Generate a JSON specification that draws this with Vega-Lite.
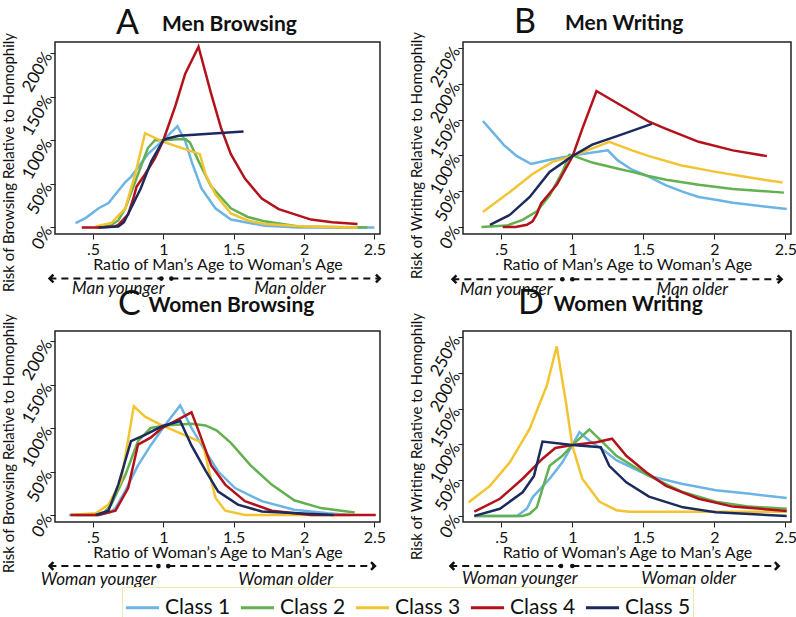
{
  "$schema": "https://vega.github.io/schema/vega-lite/v6.json",
  "background": "white",
  "padding": {"left": 0, "top": 5, "right": 0, "bottom": 0},
  "config": {
    "font": "Lato",
    "view": {"stroke": "#222", "strokeWidth": 1.5},
    "axis": {"domain": false, "grid": false, "tickColor": "#222", "tickSize": 5, "labelColor": "#111", "titleColor": "#111", "labelFontSize": 16, "titleFontSize": 16, "titleFontWeight": "normal", "labelFont": "Lato", "titleFont": "Lato", "labelPadding": 2},
    "axisY": {"labelAngle": -60, "labelAlign": "right", "labelBaseline": "middle", "labelFontSize": 17, "titleFontSize": 15, "titlePadding": 2, "labelOverlap": false},
    "axisX": {"titlePadding": -1},
    "title": {"anchor": "start", "frame": "group", "fontSize": 34, "fontWeight": "normal", "font": "Lato", "color": "#111", "subtitleFont": "Lato", "subtitleFontSize": 21, "subtitleFontWeight": "bold", "subtitleColor": "#111", "offset": -9, "subtitlePadding": -27},
    "legend": {"orient": "none", "legendX": 67, "legendY": 545, "direction": "horizontal", "symbolType": "stroke", "symbolStrokeWidth": 3, "symbolSize": 1100, "labelFontSize": 21, "labelFont": "Lato", "labelColor": "#111", "columnPadding": 3, "strokeColor": "#efe9a8", "padding": 2}
  },
  "datasets": {
    "A": [
      {"class": "Class 1", "ratio": 0.376, "risk": 0.05}, {"class": "Class 1", "ratio": 0.45, "risk": 0.11}, {"class": "Class 1", "ratio": 0.54, "risk": 0.22}, {"class": "Class 1", "ratio": 0.61, "risk": 0.28}, {"class": "Class 1", "ratio": 0.73, "risk": 0.52}, {"class": "Class 1", "ratio": 0.77, "risk": 0.58}, {"class": "Class 1", "ratio": 0.89, "risk": 0.84}, {"class": "Class 1", "ratio": 1.0, "risk": 1.0}, {"class": "Class 1", "ratio": 1.1, "risk": 1.16}, {"class": "Class 1", "ratio": 1.156, "risk": 0.99}, {"class": "Class 1", "ratio": 1.2, "risk": 0.76}, {"class": "Class 1", "ratio": 1.27, "risk": 0.45}, {"class": "Class 1", "ratio": 1.37, "risk": 0.22}, {"class": "Class 1", "ratio": 1.48, "risk": 0.09}, {"class": "Class 1", "ratio": 1.72, "risk": 0.02}, {"class": "Class 1", "ratio": 1.96, "risk": 0.0}, {"class": "Class 1", "ratio": 2.5, "risk": 0.0},
      {"class": "Class 2", "ratio": 0.52, "risk": 0.0}, {"class": "Class 2", "ratio": 0.62, "risk": 0.02}, {"class": "Class 2", "ratio": 0.68, "risk": 0.08}, {"class": "Class 2", "ratio": 0.73, "risk": 0.22}, {"class": "Class 2", "ratio": 0.82, "risk": 0.61}, {"class": "Class 2", "ratio": 0.89, "risk": 0.91}, {"class": "Class 2", "ratio": 0.94, "risk": 1.0}, {"class": "Class 2", "ratio": 1.0, "risk": 1.0}, {"class": "Class 2", "ratio": 1.1, "risk": 1.01}, {"class": "Class 2", "ratio": 1.16, "risk": 1.01}, {"class": "Class 2", "ratio": 1.19, "risk": 0.97}, {"class": "Class 2", "ratio": 1.25, "risk": 0.76}, {"class": "Class 2", "ratio": 1.34, "risk": 0.47}, {"class": "Class 2", "ratio": 1.48, "risk": 0.22}, {"class": "Class 2", "ratio": 1.6, "risk": 0.12}, {"class": "Class 2", "ratio": 1.72, "risk": 0.07}, {"class": "Class 2", "ratio": 1.96, "risk": 0.01}, {"class": "Class 2", "ratio": 2.45, "risk": 0.0},
      {"class": "Class 3", "ratio": 0.52, "risk": 0.01}, {"class": "Class 3", "ratio": 0.63, "risk": 0.05}, {"class": "Class 3", "ratio": 0.73, "risk": 0.22}, {"class": "Class 3", "ratio": 0.8, "risk": 0.61}, {"class": "Class 3", "ratio": 0.87, "risk": 1.08}, {"class": "Class 3", "ratio": 1.0, "risk": 0.98}, {"class": "Class 3", "ratio": 1.26, "risk": 0.84}, {"class": "Class 3", "ratio": 1.3, "risk": 0.61}, {"class": "Class 3", "ratio": 1.37, "risk": 0.38}, {"class": "Class 3", "ratio": 1.48, "risk": 0.16}, {"class": "Class 3", "ratio": 1.6, "risk": 0.08}, {"class": "Class 3", "ratio": 1.72, "risk": 0.04}, {"class": "Class 3", "ratio": 2.0, "risk": 0.01}, {"class": "Class 3", "ratio": 2.38, "risk": 0.0},
      {"class": "Class 4", "ratio": 0.42, "risk": 0.0}, {"class": "Class 4", "ratio": 0.55, "risk": 0.0}, {"class": "Class 4", "ratio": 0.65, "risk": 0.01}, {"class": "Class 4", "ratio": 0.68, "risk": 0.03}, {"class": "Class 4", "ratio": 0.75, "risk": 0.15}, {"class": "Class 4", "ratio": 0.79, "risk": 0.35}, {"class": "Class 4", "ratio": 0.81, "risk": 0.47}, {"class": "Class 4", "ratio": 0.87, "risk": 0.61}, {"class": "Class 4", "ratio": 0.94, "risk": 0.79}, {"class": "Class 4", "ratio": 1.0, "risk": 1.0}, {"class": "Class 4", "ratio": 1.085, "risk": 1.39}, {"class": "Class 4", "ratio": 1.155, "risk": 1.76}, {"class": "Class 4", "ratio": 1.25, "risk": 2.07}, {"class": "Class 4", "ratio": 1.34, "risk": 1.53}, {"class": "Class 4", "ratio": 1.41, "risk": 1.14}, {"class": "Class 4", "ratio": 1.48, "risk": 0.84}, {"class": "Class 4", "ratio": 1.58, "risk": 0.56}, {"class": "Class 4", "ratio": 1.7, "risk": 0.33}, {"class": "Class 4", "ratio": 1.82, "risk": 0.21}, {"class": "Class 4", "ratio": 2.05, "risk": 0.09}, {"class": "Class 4", "ratio": 2.2, "risk": 0.06}, {"class": "Class 4", "ratio": 2.38, "risk": 0.04},
      {"class": "Class 5", "ratio": 0.54, "risk": 0.0}, {"class": "Class 5", "ratio": 0.68, "risk": 0.01}, {"class": "Class 5", "ratio": 0.72, "risk": 0.06}, {"class": "Class 5", "ratio": 0.77, "risk": 0.22}, {"class": "Class 5", "ratio": 0.84, "risk": 0.45}, {"class": "Class 5", "ratio": 0.915, "risk": 0.76}, {"class": "Class 5", "ratio": 1.0, "risk": 1.0}, {"class": "Class 5", "ratio": 1.03, "risk": 1.02}, {"class": "Class 5", "ratio": 1.11, "risk": 1.05}, {"class": "Class 5", "ratio": 1.57, "risk": 1.1}
    ],
    "B": [
      {"class": "Class 1", "ratio": 0.37, "risk": 1.48}, {"class": "Class 1", "ratio": 0.45, "risk": 1.3}, {"class": "Class 1", "ratio": 0.52, "risk": 1.14}, {"class": "Class 1", "ratio": 0.61, "risk": 0.99}, {"class": "Class 1", "ratio": 0.71, "risk": 0.88}, {"class": "Class 1", "ratio": 0.84, "risk": 0.94}, {"class": "Class 1", "ratio": 1.0, "risk": 1.0}, {"class": "Class 1", "ratio": 1.25, "risk": 1.07}, {"class": "Class 1", "ratio": 1.32, "risk": 0.93}, {"class": "Class 1", "ratio": 1.42, "risk": 0.8}, {"class": "Class 1", "ratio": 1.52, "risk": 0.72}, {"class": "Class 1", "ratio": 1.66, "risk": 0.58}, {"class": "Class 1", "ratio": 1.78, "risk": 0.49}, {"class": "Class 1", "ratio": 1.89, "risk": 0.42}, {"class": "Class 1", "ratio": 2.01, "risk": 0.38}, {"class": "Class 1", "ratio": 2.13, "risk": 0.34}, {"class": "Class 1", "ratio": 2.25, "risk": 0.31}, {"class": "Class 1", "ratio": 2.51, "risk": 0.25},
      {"class": "Class 2", "ratio": 0.36, "risk": 0.0}, {"class": "Class 2", "ratio": 0.54, "risk": 0.02}, {"class": "Class 2", "ratio": 0.65, "risk": 0.1}, {"class": "Class 2", "ratio": 0.75, "risk": 0.22}, {"class": "Class 2", "ratio": 0.84, "risk": 0.44}, {"class": "Class 2", "ratio": 0.93, "risk": 0.77}, {"class": "Class 2", "ratio": 0.98, "risk": 1.01}, {"class": "Class 2", "ratio": 1.0, "risk": 1.0}, {"class": "Class 2", "ratio": 1.14, "risk": 0.9}, {"class": "Class 2", "ratio": 1.33, "risk": 0.81}, {"class": "Class 2", "ratio": 1.42, "risk": 0.77}, {"class": "Class 2", "ratio": 1.52, "risk": 0.72}, {"class": "Class 2", "ratio": 1.66, "risk": 0.66}, {"class": "Class 2", "ratio": 1.89, "risk": 0.59}, {"class": "Class 2", "ratio": 2.13, "risk": 0.53}, {"class": "Class 2", "ratio": 2.49, "risk": 0.48},
      {"class": "Class 3", "ratio": 0.37, "risk": 0.21}, {"class": "Class 3", "ratio": 0.56, "risk": 0.49}, {"class": "Class 3", "ratio": 0.72, "risk": 0.74}, {"class": "Class 3", "ratio": 0.86, "risk": 0.91}, {"class": "Class 3", "ratio": 1.0, "risk": 0.99}, {"class": "Class 3", "ratio": 1.26, "risk": 1.19}, {"class": "Class 3", "ratio": 1.42, "risk": 1.07}, {"class": "Class 3", "ratio": 1.54, "risk": 0.99}, {"class": "Class 3", "ratio": 1.77, "risk": 0.86}, {"class": "Class 3", "ratio": 2.01, "risk": 0.77}, {"class": "Class 3", "ratio": 2.25, "risk": 0.69}, {"class": "Class 3", "ratio": 2.48, "risk": 0.62},
      {"class": "Class 4", "ratio": 0.51, "risk": 0.0}, {"class": "Class 4", "ratio": 0.6, "risk": 0.0}, {"class": "Class 4", "ratio": 0.68, "risk": 0.03}, {"class": "Class 4", "ratio": 0.72, "risk": 0.08}, {"class": "Class 4", "ratio": 0.75, "risk": 0.18}, {"class": "Class 4", "ratio": 0.78, "risk": 0.33}, {"class": "Class 4", "ratio": 0.89, "risk": 0.59}, {"class": "Class 4", "ratio": 1.0, "risk": 0.98}, {"class": "Class 4", "ratio": 1.07, "risk": 1.37}, {"class": "Class 4", "ratio": 1.17, "risk": 1.9}, {"class": "Class 4", "ratio": 1.29, "risk": 1.76}, {"class": "Class 4", "ratio": 1.42, "risk": 1.61}, {"class": "Class 4", "ratio": 1.54, "risk": 1.47}, {"class": "Class 4", "ratio": 1.66, "risk": 1.37}, {"class": "Class 4", "ratio": 1.89, "risk": 1.19}, {"class": "Class 4", "ratio": 2.13, "risk": 1.07}, {"class": "Class 4", "ratio": 2.37, "risk": 0.99},
      {"class": "Class 5", "ratio": 0.42, "risk": 0.03}, {"class": "Class 5", "ratio": 0.56, "risk": 0.17}, {"class": "Class 5", "ratio": 0.7, "risk": 0.42}, {"class": "Class 5", "ratio": 0.84, "risk": 0.77}, {"class": "Class 5", "ratio": 1.0, "risk": 0.99}, {"class": "Class 5", "ratio": 1.14, "risk": 1.15}, {"class": "Class 5", "ratio": 1.33, "risk": 1.28}, {"class": "Class 5", "ratio": 1.56, "risk": 1.44}
    ],
    "C": [
      {"class": "Class 1", "ratio": 0.33, "risk": 0.0}, {"class": "Class 1", "ratio": 0.54, "risk": 0.0}, {"class": "Class 1", "ratio": 0.62, "risk": 0.03}, {"class": "Class 1", "ratio": 0.66, "risk": 0.08}, {"class": "Class 1", "ratio": 0.73, "risk": 0.28}, {"class": "Class 1", "ratio": 0.82, "risk": 0.57}, {"class": "Class 1", "ratio": 0.91, "risk": 0.8}, {"class": "Class 1", "ratio": 1.01, "risk": 1.03}, {"class": "Class 1", "ratio": 1.12, "risk": 1.26}, {"class": "Class 1", "ratio": 1.2, "risk": 1.0}, {"class": "Class 1", "ratio": 1.3, "risk": 0.73}, {"class": "Class 1", "ratio": 1.39, "risk": 0.5}, {"class": "Class 1", "ratio": 1.51, "risk": 0.31}, {"class": "Class 1", "ratio": 1.7, "risk": 0.16}, {"class": "Class 1", "ratio": 1.93, "risk": 0.06}, {"class": "Class 1", "ratio": 2.17, "risk": 0.02}, {"class": "Class 1", "ratio": 2.33, "risk": 0.0},
      {"class": "Class 2", "ratio": 0.38, "risk": 0.0}, {"class": "Class 2", "ratio": 0.52, "risk": 0.0}, {"class": "Class 2", "ratio": 0.58, "risk": 0.03}, {"class": "Class 2", "ratio": 0.63, "risk": 0.12}, {"class": "Class 2", "ratio": 0.73, "risk": 0.46}, {"class": "Class 2", "ratio": 0.82, "risk": 0.85}, {"class": "Class 2", "ratio": 0.91, "risk": 1.0}, {"class": "Class 2", "ratio": 1.01, "risk": 1.03}, {"class": "Class 2", "ratio": 1.2, "risk": 1.05}, {"class": "Class 2", "ratio": 1.3, "risk": 1.03}, {"class": "Class 2", "ratio": 1.38, "risk": 0.97}, {"class": "Class 2", "ratio": 1.48, "risk": 0.83}, {"class": "Class 2", "ratio": 1.62, "risk": 0.57}, {"class": "Class 2", "ratio": 1.77, "risk": 0.35}, {"class": "Class 2", "ratio": 1.93, "risk": 0.17}, {"class": "Class 2", "ratio": 2.12, "risk": 0.08}, {"class": "Class 2", "ratio": 2.36, "risk": 0.03},
      {"class": "Class 3", "ratio": 0.34, "risk": 0.0}, {"class": "Class 3", "ratio": 0.52, "risk": 0.02}, {"class": "Class 3", "ratio": 0.61, "risk": 0.12}, {"class": "Class 3", "ratio": 0.7, "risk": 0.39}, {"class": "Class 3", "ratio": 0.79, "risk": 1.25}, {"class": "Class 3", "ratio": 0.87, "risk": 1.13}, {"class": "Class 3", "ratio": 0.99, "risk": 1.03}, {"class": "Class 3", "ratio": 1.28, "risk": 0.83}, {"class": "Class 3", "ratio": 1.32, "risk": 0.54}, {"class": "Class 3", "ratio": 1.37, "risk": 0.2}, {"class": "Class 3", "ratio": 1.44, "risk": 0.05}, {"class": "Class 3", "ratio": 1.58, "risk": 0.0}, {"class": "Class 3", "ratio": 2.33, "risk": 0.0},
      {"class": "Class 4", "ratio": 0.34, "risk": 0.0}, {"class": "Class 4", "ratio": 0.54, "risk": 0.0}, {"class": "Class 4", "ratio": 0.66, "risk": 0.05}, {"class": "Class 4", "ratio": 0.75, "risk": 0.31}, {"class": "Class 4", "ratio": 0.82, "risk": 0.81}, {"class": "Class 4", "ratio": 0.91, "risk": 0.89}, {"class": "Class 4", "ratio": 0.99, "risk": 1.0}, {"class": "Class 4", "ratio": 1.12, "risk": 1.11}, {"class": "Class 4", "ratio": 1.2, "risk": 1.18}, {"class": "Class 4", "ratio": 1.25, "risk": 0.97}, {"class": "Class 4", "ratio": 1.34, "risk": 0.57}, {"class": "Class 4", "ratio": 1.44, "risk": 0.35}, {"class": "Class 4", "ratio": 1.58, "risk": 0.16}, {"class": "Class 4", "ratio": 1.77, "risk": 0.05}, {"class": "Class 4", "ratio": 2.05, "risk": 0.0}, {"class": "Class 4", "ratio": 2.51, "risk": 0.0},
      {"class": "Class 5", "ratio": 0.52, "risk": 0.0}, {"class": "Class 5", "ratio": 0.61, "risk": 0.05}, {"class": "Class 5", "ratio": 0.68, "risk": 0.35}, {"class": "Class 5", "ratio": 0.77, "risk": 0.85}, {"class": "Class 5", "ratio": 0.87, "risk": 0.92}, {"class": "Class 5", "ratio": 0.99, "risk": 1.02}, {"class": "Class 5", "ratio": 1.12, "risk": 1.08}, {"class": "Class 5", "ratio": 1.2, "risk": 0.8}, {"class": "Class 5", "ratio": 1.3, "risk": 0.51}, {"class": "Class 5", "ratio": 1.39, "risk": 0.27}, {"class": "Class 5", "ratio": 1.53, "risk": 0.12}, {"class": "Class 5", "ratio": 1.7, "risk": 0.04}, {"class": "Class 5", "ratio": 2.21, "risk": 0.0}
    ],
    "D": [
      {"class": "Class 1", "ratio": 0.31, "risk": 0.0}, {"class": "Class 1", "ratio": 0.61, "risk": 0.0}, {"class": "Class 1", "ratio": 0.68, "risk": 0.1}, {"class": "Class 1", "ratio": 0.72, "risk": 0.26}, {"class": "Class 1", "ratio": 0.84, "risk": 0.52}, {"class": "Class 1", "ratio": 0.93, "risk": 0.75}, {"class": "Class 1", "ratio": 1.0, "risk": 0.99}, {"class": "Class 1", "ratio": 1.05, "risk": 1.17}, {"class": "Class 1", "ratio": 1.12, "risk": 1.05}, {"class": "Class 1", "ratio": 1.24, "risk": 0.89}, {"class": "Class 1", "ratio": 1.31, "risk": 0.78}, {"class": "Class 1", "ratio": 1.54, "risk": 0.56}, {"class": "Class 1", "ratio": 1.77, "risk": 0.45}, {"class": "Class 1", "ratio": 2.01, "risk": 0.36}, {"class": "Class 1", "ratio": 2.25, "risk": 0.31}, {"class": "Class 1", "ratio": 2.51, "risk": 0.25},
      {"class": "Class 2", "ratio": 0.31, "risk": 0.0}, {"class": "Class 2", "ratio": 0.65, "risk": 0.0}, {"class": "Class 2", "ratio": 0.7, "risk": 0.03}, {"class": "Class 2", "ratio": 0.75, "risk": 0.12}, {"class": "Class 2", "ratio": 0.79, "risk": 0.38}, {"class": "Class 2", "ratio": 0.84, "risk": 0.7}, {"class": "Class 2", "ratio": 0.93, "risk": 0.84}, {"class": "Class 2", "ratio": 1.0, "risk": 0.99}, {"class": "Class 2", "ratio": 1.12, "risk": 1.21}, {"class": "Class 2", "ratio": 1.24, "risk": 0.98}, {"class": "Class 2", "ratio": 1.31, "risk": 0.84}, {"class": "Class 2", "ratio": 1.54, "risk": 0.56}, {"class": "Class 2", "ratio": 1.77, "risk": 0.34}, {"class": "Class 2", "ratio": 2.01, "risk": 0.2}, {"class": "Class 2", "ratio": 2.25, "risk": 0.13}, {"class": "Class 2", "ratio": 2.51, "risk": 0.1},
      {"class": "Class 3", "ratio": 0.27, "risk": 0.19}, {"class": "Class 3", "ratio": 0.42, "risk": 0.42}, {"class": "Class 3", "ratio": 0.56, "risk": 0.75}, {"class": "Class 3", "ratio": 0.7, "risk": 1.22}, {"class": "Class 3", "ratio": 0.82, "risk": 1.82}, {"class": "Class 3", "ratio": 0.89, "risk": 2.37}, {"class": "Class 3", "ratio": 0.955, "risk": 1.59}, {"class": "Class 3", "ratio": 1.0, "risk": 0.98}, {"class": "Class 3", "ratio": 1.07, "risk": 0.52}, {"class": "Class 3", "ratio": 1.19, "risk": 0.2}, {"class": "Class 3", "ratio": 1.31, "risk": 0.08}, {"class": "Class 3", "ratio": 1.4, "risk": 0.06}, {"class": "Class 3", "ratio": 2.51, "risk": 0.06},
      {"class": "Class 4", "ratio": 0.31, "risk": 0.06}, {"class": "Class 4", "ratio": 0.49, "risk": 0.24}, {"class": "Class 4", "ratio": 0.65, "risk": 0.52}, {"class": "Class 4", "ratio": 0.79, "risk": 0.8}, {"class": "Class 4", "ratio": 0.88, "risk": 0.95}, {"class": "Class 4", "ratio": 1.0, "risk": 0.99}, {"class": "Class 4", "ratio": 1.17, "risk": 1.03}, {"class": "Class 4", "ratio": 1.28, "risk": 1.08}, {"class": "Class 4", "ratio": 1.38, "risk": 0.84}, {"class": "Class 4", "ratio": 1.52, "risk": 0.61}, {"class": "Class 4", "ratio": 1.66, "risk": 0.42}, {"class": "Class 4", "ratio": 1.89, "risk": 0.24}, {"class": "Class 4", "ratio": 2.13, "risk": 0.13}, {"class": "Class 4", "ratio": 2.51, "risk": 0.07},
      {"class": "Class 5", "ratio": 0.31, "risk": 0.0}, {"class": "Class 5", "ratio": 0.49, "risk": 0.1}, {"class": "Class 5", "ratio": 0.65, "risk": 0.33}, {"class": "Class 5", "ratio": 0.73, "risk": 0.56}, {"class": "Class 5", "ratio": 0.79, "risk": 1.04}, {"class": "Class 5", "ratio": 1.0, "risk": 0.99}, {"class": "Class 5", "ratio": 1.2, "risk": 0.96}, {"class": "Class 5", "ratio": 1.26, "risk": 0.7}, {"class": "Class 5", "ratio": 1.38, "risk": 0.47}, {"class": "Class 5", "ratio": 1.54, "risk": 0.27}, {"class": "Class 5", "ratio": 1.78, "risk": 0.12}, {"class": "Class 5", "ratio": 2.01, "risk": 0.05}, {"class": "Class 5", "ratio": 2.51, "risk": 0.0}
    ]
  },
  "spacing": -13,
  "vconcat": [
    {
      "spacing": 21,
      "hconcat": [
        {
          "width": 325, "height": 192,
          "title": {"text": "A", "subtitle": "\u200b\u00a0\u00a0\u00a0\u00a0\u00a0\u00a0\u00a0\u00a0\u00a0Men Browsing", "dx": 61},
          "layer": [
            {"data": {"name": "A"}, "mark": {"type": "line", "strokeWidth": 2.5},
             "encoding": {
               "x": {"field": "ratio", "type": "quantitative", "scale": {"domain": [0.23, 2.54], "nice": false, "zero": false}, "axis": {"values": [0.5, 1, 1.5, 2, 2.5], "tickCount": 10, "labelExpr": "datum.value == 0.5 ? '.5' : format(datum.value, '~g')", "title": "Ratio of Man’s Age to Woman’s Age"}},
               "y": {"field": "risk", "type": "quantitative", "scale": {"domain": [-0.075, 2.125], "nice": false, "zero": false}, "axis": {"values": [0, 0.5, 1, 1.5, 2], "tickCount": 10, "format": ".0%", "labelOverlap": false, "title": "Risk of Browsing Relative to Homophily", "titleY": 120}},
               "color": {"field": "class", "type": "nominal", "scale": {"domain": ["Class 1", "Class 2", "Class 3", "Class 4", "Class 5"], "range": ["#6cb4e4", "#62b04f", "#f3c431", "#b3121b", "#1c2a5e"]}, "legend": {"title": null}}
             }},
            {"data": {"values": [{}]}, "mark": {"type": "rule", "strokeDash": [7, 5], "strokeWidth": 2, "color": "#111"}, "encoding": {"x": {"datum": 0.19}, "x2": {"datum": 0.986}, "y": {"datum": -0.586}}},
            {"data": {"values": [{}]}, "mark": {"type": "rule", "strokeDash": [7, 5], "strokeWidth": 2, "color": "#111"}, "encoding": {"x": {"datum": 1.057}, "x2": {"datum": 2.54}, "y": {"datum": -0.586}}},
            {"data": {"values": [{}]}, "mark": {"type": "point", "shape": "M0.5,-1L-0.5,0L0.5,1", "filled": false, "strokeWidth": 2.5, "size": 60, "color": "#111", "opacity": 1}, "encoding": {"x": {"datum": 0.205}, "y": {"datum": -0.586}}},
            {"data": {"values": [{}]}, "mark": {"type": "point", "shape": "M-0.5,-1L0.5,0L-0.5,1", "filled": false, "strokeWidth": 2.5, "size": 60, "color": "#111", "opacity": 1}, "encoding": {"x": {"datum": 2.525}, "y": {"datum": -0.586}}},
            {"data": {"values": [{}]}, "mark": {"type": "point", "shape": "circle", "filled": true, "size": 22, "color": "#111", "opacity": 1}, "encoding": {"x": {"datum": 0.986}, "y": {"datum": -0.586}}},
            {"data": {"values": [{}]}, "mark": {"type": "point", "shape": "circle", "filled": true, "size": 22, "color": "#111", "opacity": 1}, "encoding": {"x": {"datum": 1.057}, "y": {"datum": -0.586}}},
            {"data": {"values": [{}]}, "mark": {"type": "text", "text": "Man younger", "fontStyle": "italic", "fontSize": 17, "color": "#111", "baseline": "middle"}, "encoding": {"x": {"datum": 0.68}, "y": {"datum": -0.70}}},
            {"data": {"values": [{}]}, "mark": {"type": "text", "text": "Man older", "fontStyle": "italic", "fontSize": 17, "color": "#111", "baseline": "middle"}, "encoding": {"x": {"datum": 1.9}, "y": {"datum": -0.70}}}
          ]
        },
        {
          "width": 328, "height": 192,
          "title": {"text": "B", "subtitle": "\u200b\u00a0\u00a0\u00a0\u00a0\u00a0\u00a0\u00a0\u00a0\u00a0\u00a0Men Writing", "dx": 51},
          "layer": [
            {"data": {"name": "B"}, "mark": {"type": "line", "strokeWidth": 2.5},
             "encoding": {
               "x": {"field": "ratio", "type": "quantitative", "scale": {"domain": [0.23, 2.54], "nice": false, "zero": false}, "axis": {"values": [0.5, 1, 1.5, 2, 2.5], "tickCount": 10, "labelExpr": "datum.value == 0.5 ? '.5' : format(datum.value, '~g')", "title": "Ratio of Man’s Age to Woman’s Age"}},
               "y": {"field": "risk", "type": "quantitative", "scale": {"domain": [-0.098, 2.584], "nice": false, "zero": false}, "axis": {"values": [0, 0.5, 1, 1.5, 2, 2.5], "tickCount": 10, "format": ".0%", "labelOverlap": false, "title": "Risk of Writing Relative to Homophily", "titleY": 113}},
               "color": {"field": "class", "type": "nominal", "scale": {"domain": ["Class 1", "Class 2", "Class 3", "Class 4", "Class 5"], "range": ["#6cb4e4", "#62b04f", "#f3c431", "#b3121b", "#1c2a5e"]}, "legend": {"title": null}}
             }},
            {"data": {"values": [{}]}, "mark": {"type": "rule", "strokeDash": [7, 5], "strokeWidth": 2, "color": "#111"}, "encoding": {"x": {"datum": 0.155}, "x2": {"datum": 0.93}, "y": {"datum": -0.73}}},
            {"data": {"values": [{}]}, "mark": {"type": "rule", "strokeDash": [7, 5], "strokeWidth": 2, "color": "#111"}, "encoding": {"x": {"datum": 1.0}, "x2": {"datum": 2.475}, "y": {"datum": -0.73}}},
            {"data": {"values": [{}]}, "mark": {"type": "point", "shape": "M0.5,-1L-0.5,0L0.5,1", "filled": false, "strokeWidth": 2.5, "size": 60, "color": "#111", "opacity": 1}, "encoding": {"x": {"datum": 0.17}, "y": {"datum": -0.73}}},
            {"data": {"values": [{}]}, "mark": {"type": "point", "shape": "M-0.5,-1L0.5,0L-0.5,1", "filled": false, "strokeWidth": 2.5, "size": 60, "color": "#111", "opacity": 1}, "encoding": {"x": {"datum": 2.46}, "y": {"datum": -0.73}}},
            {"data": {"values": [{}]}, "mark": {"type": "point", "shape": "circle", "filled": true, "size": 22, "color": "#111", "opacity": 1}, "encoding": {"x": {"datum": 0.93}, "y": {"datum": -0.73}}},
            {"data": {"values": [{}]}, "mark": {"type": "point", "shape": "circle", "filled": true, "size": 22, "color": "#111", "opacity": 1}, "encoding": {"x": {"datum": 1.0}, "y": {"datum": -0.73}}},
            {"data": {"values": [{}]}, "mark": {"type": "text", "text": "Man younger", "fontStyle": "italic", "fontSize": 17, "color": "#111", "baseline": "middle"}, "encoding": {"x": {"datum": 0.535}, "y": {"datum": -0.875}}},
            {"data": {"values": [{}]}, "mark": {"type": "text", "text": "Man older", "fontStyle": "italic", "fontSize": 17, "color": "#111", "baseline": "middle"}, "encoding": {"x": {"datum": 1.845}, "y": {"datum": -0.875}}}
          ]
        }
      ]
    },
    {
      "spacing": 21,
      "hconcat": [
        {
          "width": 325, "height": 191,
          "title": {"text": "C", "subtitle": "\u200b\u00a0\u00a0\u00a0\u00a0\u00a0\u00a0Women Browsing", "dx": 63},
          "layer": [
            {"data": {"name": "C"}, "mark": {"type": "line", "strokeWidth": 2.5},
             "encoding": {
               "x": {"field": "ratio", "type": "quantitative", "scale": {"domain": [0.23, 2.54], "nice": false, "zero": false}, "axis": {"values": [0.5, 1, 1.5, 2, 2.5], "tickCount": 10, "labelExpr": "datum.value == 0.5 ? '.5' : format(datum.value, '~g')", "title": "Ratio of Woman’s Age to Man’s Age"}},
               "y": {"field": "risk", "type": "quantitative", "scale": {"domain": [-0.08, 2.115], "nice": false, "zero": false}, "axis": {"values": [0, 0.5, 1, 1.5, 2], "tickCount": 10, "format": ".0%", "labelOverlap": false, "title": "Risk of Browsing Relative to Homophily", "titleY": 112}},
               "color": {"field": "class", "type": "nominal", "scale": {"domain": ["Class 1", "Class 2", "Class 3", "Class 4", "Class 5"], "range": ["#6cb4e4", "#62b04f", "#f3c431", "#b3121b", "#1c2a5e"]}, "legend": {"title": null}}
             }},
            {"data": {"values": [{}]}, "mark": {"type": "rule", "strokeDash": [7, 5], "strokeWidth": 2, "color": "#111"}, "encoding": {"x": {"datum": 0.19}, "x2": {"datum": 0.965}, "y": {"datum": -0.586}}},
            {"data": {"values": [{}]}, "mark": {"type": "rule", "strokeDash": [7, 5], "strokeWidth": 2, "color": "#111"}, "encoding": {"x": {"datum": 1.035}, "x2": {"datum": 2.505}, "y": {"datum": -0.586}}},
            {"data": {"values": [{}]}, "mark": {"type": "point", "shape": "M0.5,-1L-0.5,0L0.5,1", "filled": false, "strokeWidth": 2.5, "size": 60, "color": "#111", "opacity": 1}, "encoding": {"x": {"datum": 0.205}, "y": {"datum": -0.586}}},
            {"data": {"values": [{}]}, "mark": {"type": "point", "shape": "M-0.5,-1L0.5,0L-0.5,1", "filled": false, "strokeWidth": 2.5, "size": 60, "color": "#111", "opacity": 1}, "encoding": {"x": {"datum": 2.49}, "y": {"datum": -0.586}}},
            {"data": {"values": [{}]}, "mark": {"type": "point", "shape": "circle", "filled": true, "size": 22, "color": "#111", "opacity": 1}, "encoding": {"x": {"datum": 0.965}, "y": {"datum": -0.586}}},
            {"data": {"values": [{}]}, "mark": {"type": "point", "shape": "circle", "filled": true, "size": 22, "color": "#111", "opacity": 1}, "encoding": {"x": {"datum": 1.035}, "y": {"datum": -0.586}}},
            {"data": {"values": [{}]}, "mark": {"type": "text", "text": "Woman younger", "fontStyle": "italic", "fontSize": 17, "color": "#111", "baseline": "middle"}, "encoding": {"x": {"datum": 0.54}, "y": {"datum": -0.75}}},
            {"data": {"values": [{}]}, "mark": {"type": "text", "text": "Woman older", "fontStyle": "italic", "fontSize": 17, "color": "#111", "baseline": "middle"}, "encoding": {"x": {"datum": 1.87}, "y": {"datum": -0.75}}}
          ]
        },
        {
          "width": 328, "height": 191,
          "title": {"text": "D", "subtitle": "\u200b\u00a0\u00a0\u00a0\u00a0\u00a0\u00a0\u00a0Women Writing", "dx": 55},
          "layer": [
            {"data": {"name": "D"}, "mark": {"type": "line", "strokeWidth": 2.5},
             "encoding": {
               "x": {"field": "ratio", "type": "quantitative", "scale": {"domain": [0.23, 2.54], "nice": false, "zero": false}, "axis": {"values": [0.5, 1, 1.5, 2, 2.5], "tickCount": 10, "labelExpr": "datum.value == 0.5 ? '.5' : format(datum.value, '~g')", "title": "Ratio of Woman’s Age to Man’s Age"}},
               "y": {"field": "risk", "type": "quantitative", "scale": {"domain": [-0.085, 2.585], "nice": false, "zero": false}, "axis": {"values": [0, 0.5, 1, 1.5, 2, 2.5], "tickCount": 10, "format": ".0%", "labelOverlap": false, "title": "Risk of Writing Relative to Homophily", "titleY": 105}},
               "color": {"field": "class", "type": "nominal", "scale": {"domain": ["Class 1", "Class 2", "Class 3", "Class 4", "Class 5"], "range": ["#6cb4e4", "#62b04f", "#f3c431", "#b3121b", "#1c2a5e"]}, "legend": {"title": null}}
             }},
            {"data": {"values": [{}]}, "mark": {"type": "rule", "strokeDash": [7, 5], "strokeWidth": 2, "color": "#111"}, "encoding": {"x": {"datum": 0.14}, "x2": {"datum": 0.92}, "y": {"datum": -0.70}}},
            {"data": {"values": [{}]}, "mark": {"type": "rule", "strokeDash": [7, 5], "strokeWidth": 2, "color": "#111"}, "encoding": {"x": {"datum": 1.0}, "x2": {"datum": 2.455}, "y": {"datum": -0.70}}},
            {"data": {"values": [{}]}, "mark": {"type": "point", "shape": "M0.5,-1L-0.5,0L0.5,1", "filled": false, "strokeWidth": 2.5, "size": 60, "color": "#111", "opacity": 1}, "encoding": {"x": {"datum": 0.155}, "y": {"datum": -0.70}}},
            {"data": {"values": [{}]}, "mark": {"type": "point", "shape": "M-0.5,-1L0.5,0L-0.5,1", "filled": false, "strokeWidth": 2.5, "size": 60, "color": "#111", "opacity": 1}, "encoding": {"x": {"datum": 2.44}, "y": {"datum": -0.70}}},
            {"data": {"values": [{}]}, "mark": {"type": "point", "shape": "circle", "filled": true, "size": 22, "color": "#111", "opacity": 1}, "encoding": {"x": {"datum": 0.92}, "y": {"datum": -0.70}}},
            {"data": {"values": [{}]}, "mark": {"type": "point", "shape": "circle", "filled": true, "size": 22, "color": "#111", "opacity": 1}, "encoding": {"x": {"datum": 1.0}, "y": {"datum": -0.70}}},
            {"data": {"values": [{}]}, "mark": {"type": "text", "text": "Woman younger", "fontStyle": "italic", "fontSize": 17, "color": "#111", "baseline": "middle"}, "encoding": {"x": {"datum": 0.63}, "y": {"datum": -0.88}}},
            {"data": {"values": [{}]}, "mark": {"type": "text", "text": "Woman older", "fontStyle": "italic", "fontSize": 17, "color": "#111", "baseline": "middle"}, "encoding": {"x": {"datum": 1.82}, "y": {"datum": -0.88}}}
          ]
        }
      ]
    }
  ]
}
